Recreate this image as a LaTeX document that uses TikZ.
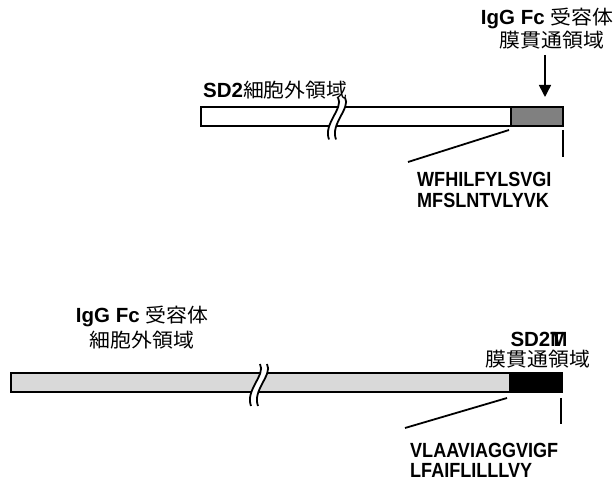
\documentclass[tikz,border=0pt]{standalone}
\usepackage{fontspec}
\usepackage{graphicx}
\setmainfont{Liberation Sans}
\newfontfamily\cjkfam{Noto Sans CJK JP}
\usetikzlibrary{arrows.meta}
\newcommand\cjktext[1]{\scalebox{1.07}[1]{\cjkfam\mdseries\fontsize{19.5}{22}\selectfont #1}}
\newcommand\seqtext[1]{\scalebox{0.88}[1]{#1}}
\tikzset{
  lbl/.style={inner sep=0pt, font=\fontsize{20.5}{24}\selectfont\bfseries},
  seq/.style={inner sep=0pt, anchor=base west, font=\fontsize{20.5}{24}\selectfont\bfseries},
  barseg/.style={draw=black, line width=2.2pt, inner sep=0pt, outer sep=0pt, anchor=north west, minimum height=19pt},
  conn/.style={draw=black, line width=1.8pt},
  brk/.style={draw=black, line width=1.8pt},
  pointer/.style={draw=black, line width=1.5pt, -{Triangle[length=12pt,width=12pt]}},
  breakmark/.pic={
    \fill[white] (2,-21) .. controls (8,-10) and (-13,5) .. (-7,21) -- (0,21) .. controls (-6,5) and (15,-10) .. (9,-21) -- cycle;
    \draw[brk] (2,-21) .. controls (8,-10) and (-13,5) .. (-7,21);
    \draw[brk] (9,-21) .. controls (15,-10) and (-6,5) .. (0,21);
  }
}
\begin{document}
\begin{tikzpicture}[x=1pt,y=-1pt]
\useasboundingbox (0,0) rectangle (614,481);
% ---- top construct ----
\node[barseg, fill=white, minimum width=310pt] (ecd1) at (201,107) {};
\node[barseg, fill={rgb,255:red,128;green,128;blue,128}, minimum width=52pt] (tm1) at (511,107) {};
\pic at (336,118.5) {breakmark};
\node[lbl, anchor=base] (t1a) at (547,25) {IgG Fc \cjktext{受容体}};
\node[lbl, anchor=base] (t1b) at (552,48) {\cjktext{膜貫通領域}};
\node[lbl, anchor=base west] (t1c) at (203,98) {SD2\cjktext{細胞外領域}};
\node[seq] (s1a) at (417,187) {\seqtext{WFHILFYLSVGI}};
\node[seq] (s1b) at (417,208) {\seqtext{MFSLNTVLYVK}};
\coordinate (a1s) at (545,55);
\coordinate (a1e) at (545,97);
\draw[pointer] (a1s) -- (a1e);
\coordinate (d1s) at (509,130);
\coordinate (d1e) at (408,162);
\draw[conn] (d1s) -- (d1e);
\coordinate (v1s) at (563,130);
\coordinate (v1e) at (563,157);
\draw[conn] (v1s) -- (v1e);
% ---- bottom construct ----
\node[barseg, fill={rgb,255:red,217;green,217;blue,217}, minimum width=499pt] (ecd2) at (11,373) {};
\node[barseg, fill=black, minimum width=52pt] (tm2) at (510,373) {};
\pic at (258,385) {breakmark};
\node[lbl, anchor=base] (b1a) at (142,323) {IgG Fc \cjktext{受容体}};
\node[lbl, anchor=base] (b1b) at (142,348) {\cjktext{細胞外領域}};
\node[lbl, anchor=base] (b2a) at (539,347) {SD2\rlap{T}M};
\node[lbl, anchor=base] (b2b) at (538,367) {\cjktext{膜貫通領域}};
\node[seq] (s2a) at (410,457) {\seqtext{VLAAVIAGGVIGF}};
\node[seq] (s2b) at (410,478) {\seqtext{LFAIFLILLLVY}};
\coordinate (d2s) at (507,398);
\coordinate (d2e) at (405,428);
\draw[conn] (d2s) -- (d2e);
\coordinate (v2s) at (561,398);
\coordinate (v2e) at (561,424);
\draw[conn] (v2s) -- (v2e);
\end{tikzpicture}
\end{document}
